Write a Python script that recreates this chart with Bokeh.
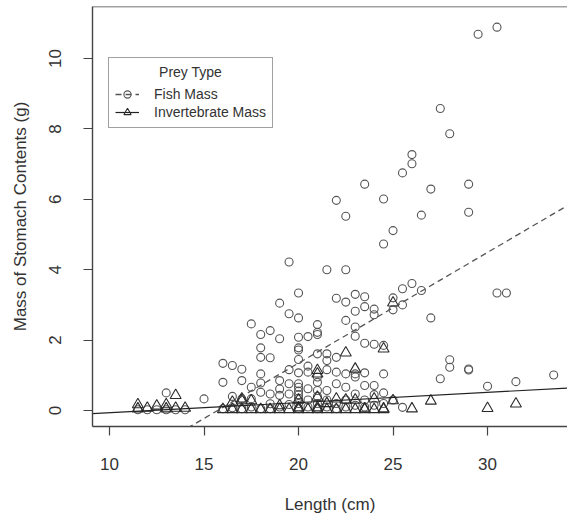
from bokeh.plotting import figure
from bokeh.models import Legend, LegendItem, Label, Span, FixedTicker
from bokeh.embed import file_html
from bokeh.resources import INLINE

# ---------------- data ----------------
fish_length = (
    [11.5, 12.0, 12.5, 13.0, 13.0, 13.5, 14.0, 15.0]
    + [16.0] * 3 + [16.5] * 3 + [17.0] * 4 + [17.5] * 4
    + [18.0] * 7 + [18.5] * 5 + [19.0] * 6 + [19.5] * 6
    + [20.0] * 14 + [20.5] * 6 + [21.0] * 10 + [21.5] * 7
    + [22.0] * 7 + [22.5] * 8 + [23.0] * 8 + [23.5] * 8
    + [24.0] * 6 + [24.5] * 6 + [25.0] * 4 + [25.5] * 4
    + [26.0] * 3 + [26.5] * 2 + [27.0] * 2 + [27.5] * 2
    + [28.0] * 3 + [29.0] * 4
    + [29.5, 30.0, 30.5, 30.5, 31.0, 31.5, 33.5]
)
fish_mass = (
    [0.02, 0.02, 0.02, 0.50, 0.02, 0.02, 0.02, 0.33]
    + [1.34, 0.80, 0.05]
    + [1.28, 0.40, 0.08]
    + [1.17, 0.85, 0.33, 0.05]
    + [2.46, 0.66, 0.33, 0.10]
    + [2.16, 1.78, 1.51, 1.04, 0.78, 0.52, 0.05]
    + [2.27, 1.50, 0.47, 0.19, 0.05]
    + [3.05, 2.04, 0.85, 0.61, 0.43, 0.10]
    + [4.22, 2.75, 1.16, 0.76, 0.47, 0.17]
    + [3.34, 2.63, 2.08, 1.78, 1.72, 1.45, 1.07, 0.76, 0.66, 0.55, 0.45, 0.35, 0.20, 0.05]
    + [2.10, 1.26, 1.09, 0.62, 0.30, 0.10]
    + [2.44, 2.22, 2.16, 1.61, 0.95, 0.80, 0.57, 0.40, 0.20, 0.05]
    + [4.00, 1.61, 1.42, 1.16, 0.57, 0.30, 0.10]
    + [5.97, 3.19, 1.51, 1.09, 0.76, 0.20, 0.05]
    + [5.52, 4.00, 3.08, 2.56, 1.04, 0.66, 0.30, 0.10]
    + [3.30, 2.82, 2.37, 2.11, 1.04, 0.95, 0.47, 0.15]
    + [6.43, 3.23, 2.95, 1.91, 1.07, 0.71, 0.30, 0.10]
    + [2.88, 2.72, 1.88, 0.71, 0.45, 0.15]
    + [6.01, 4.73, 1.85, 1.04, 0.50, 0.20]
    + [5.11, 3.20, 2.86, 0.30]
    + [6.75, 3.46, 3.00, 0.09]
    + [7.27, 7.01, 3.61]
    + [5.55, 3.41]
    + [6.29, 2.63]
    + [8.58, 0.90]
    + [7.86, 1.44, 1.23]
    + [6.43, 5.63, 1.18, 1.15]
    + [10.69, 0.69, 10.89, 3.34, 3.34, 0.82, 1.01]
)

invert_length = (
    [11.5, 11.5, 12.0, 12.5, 13.0, 13.0, 13.5, 13.5, 14.0]
    + [16.0] + [16.5] * 2 + [17.0] * 3 + [17.5] * 2 + [18.0] + [18.5]
    + [19.0] * 2 + [19.5] + [20.0] * 3 + [20.5] + [21.0] * 5
    + [21.5] * 2 + [22.0] * 2 + [22.5] * 3 + [23.0] * 3 + [23.5] * 2
    + [24.0] * 2 + [24.5] * 3 + [25.0] * 2
    + [26.0, 27.0, 30.0, 31.5]
)
invert_mass = (
    [0.17, 0.05, 0.07, 0.13, 0.17, 0.05, 0.43, 0.07, 0.07]
    + [0.03] + [0.24, 0.03] + [0.33, 0.28, 0.03] + [0.28, 0.03] + [0.03] + [0.03]
    + [0.14, 0.03] + [0.03] + [0.30, 0.08, 0.03] + [0.03] + [1.14, 1.04, 0.38, 0.08, 0.03]
    + [0.20, 0.03] + [0.33, 0.03] + [1.64, 0.30, 0.03] + [1.18, 0.30, 0.03] + [0.05, 0.03]
    + [0.33, 0.03] + [1.75, 0.05, 0.03] + [3.06, 0.28]
    + [0.05, 0.27, 0.06, 0.19]
)

# fitted regression lines: (intercept, slope)
fish_fit = (-4.944, 0.3145)
invert_fit = (-0.355, 0.029)

x_ticks = [10, 15, 20, 25, 30]
y_ticks = [0, 2, 4, 6, 8, 10]
x_lo, x_hi = 9.1, 34.23
y_lo, y_hi = -0.4545, 11.477

FONT = "Liberation Sans"
TXT = "#333333"
FRAME = "#444444"

p = figure(width=567, height=517, x_range=(x_lo, x_hi), y_range=(y_lo, y_hi),
           output_backend="svg", toolbar_location=None,
           min_border_left=92, min_border_right=0, min_border_top=6, min_border_bottom=91,
           x_axis_label="Length (cm)", y_axis_label="Mass of Stomach Contents (g)")
p.outline_line_color = None
p.xgrid.grid_line_color = None
p.ygrid.grid_line_color = None
p.background_fill_color = "white"

for ax in (p.xaxis[0], p.yaxis[0]):
    ax.minor_tick_line_color = None
    ax.major_tick_out = 9
    ax.major_tick_in = 0
    ax.major_tick_line_color = FRAME
    ax.major_tick_line_width = 1.2
    ax.axis_line_color = FRAME
    ax.axis_line_width = 1.4
    ax.major_label_text_font = FONT
    ax.major_label_text_font_size = "17px"
    ax.major_label_text_color = TXT
    ax.axis_label_text_font = FONT
    ax.axis_label_text_font_size = "17px"
    ax.axis_label_text_font_style = "normal"
    ax.axis_label_text_color = TXT

p.xaxis.ticker = FixedTicker(ticks=x_ticks)
p.yaxis.ticker = FixedTicker(ticks=y_ticks)
p.xaxis.major_label_standoff = 22
p.xaxis.axis_label_standoff = 22
p.yaxis.major_label_orientation = "vertical"
p.yaxis.major_label_standoff = 22
p.yaxis.axis_label_standoff = 17

# top border of the box
p.add_layout(Span(location=y_hi, dimension="width", line_color=FRAME, line_width=1.4))

fish_pts = p.scatter(fish_length, fish_mass, marker="circle", size=8,
                     fill_color=None, line_color="#555555", line_width=1.1)
inv_pts = p.scatter(invert_length, invert_mass, marker="triangle", size=11,
                    fill_color=None, line_color="#2a2a2a", line_width=1.1)

fx = [x_lo, x_hi]
fish_line = p.line(fx, [fish_fit[0] + fish_fit[1] * v for v in fx],
                   line_color="#555555", line_width=1.3, line_dash="6 4")
inv_line = p.line(fx, [invert_fit[0] + invert_fit[1] * v for v in fx],
                  line_color="#222222", line_width=1.2)

legend = Legend(
    items=[LegendItem(label="Fish Mass", renderers=[fish_line, fish_pts]),
           LegendItem(label="Invertebrate Mass", renderers=[inv_line, inv_pts])],
    location=(16, 298), title=" ", title_text_font_size="14px", title_standoff=5,
    padding=6, spacing=0, margin=0, label_height=18, glyph_height=18, glyph_width=24,
    label_standoff=15, label_text_font=FONT, label_text_font_size="14px",
    label_text_color=TXT, border_line_color=FRAME, border_line_width=1.3,
    background_fill_color="white", background_fill_alpha=0.0)
p.add_layout(legend)

# legend heading, centred over the legend box
p.add_layout(Label(x=14.29, y=9.63, text="Prey Type",
                   text_align="center", text_baseline="middle", text_font=FONT,
                   text_font_size="14px", text_color=TXT))

open("out.html", "w").write(file_html(p, INLINE))
